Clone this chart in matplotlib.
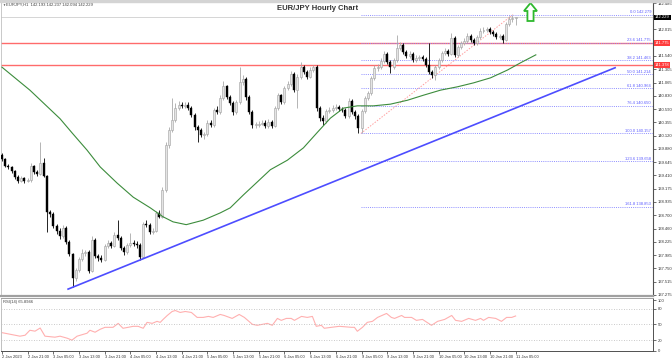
import numpy as np
import matplotlib
matplotlib.use("Agg")
import matplotlib.pyplot as plt
import matplotlib.transforms as mtransforms
from matplotlib.patches import Polygon, Rectangle

plt.rcParams["font.family"] = ["Liberation Sans", "DejaVu Sans"]

# ---------------- DATA (EUR/JPY H1) ----------------
first_open = 139.77
closes = [139.70, 139.58, 139.56, 139.49, 139.38, 139.31, 139.36, 139.31, 139.33, 139.58,
          139.47, 139.43, 139.63, 139.40, 138.76, 138.72, 138.51, 138.42, 138.33, 138.47,
          138.22, 138.01, 137.58, 137.72, 137.92, 138.03, 138.04, 137.70, 138.26, 137.97,
          137.94, 137.90, 138.15, 138.20, 138.15, 138.35, 138.29, 138.11, 138.04, 138.17,
          138.20, 138.19, 138.17, 137.95, 138.54, 138.52, 138.40, 138.42, 138.74, 138.67,
          139.15, 139.95, 140.22, 140.40, 140.61, 140.67, 140.65, 140.67, 140.61, 140.49,
          140.27, 140.22, 140.13, 140.15, 140.35, 140.31, 140.58, 140.54, 140.79, 141.00,
          140.81, 140.70, 140.54, 140.72, 141.08, 141.13, 140.81, 140.54, 140.31, 140.31,
          140.33, 140.35, 140.29, 140.36, 140.29, 140.61, 140.84, 140.72, 140.97, 141.04,
          141.22, 140.93, 141.17, 141.34, 141.25, 141.17, 141.29, 141.34, 140.61, 140.43,
          140.38, 140.56, 140.58, 140.61, 140.63, 140.59, 140.58, 140.47, 140.74, 140.54,
          140.47, 140.26, 140.56, 140.79, 140.88, 141.15, 141.33, 141.34, 141.45, 141.58,
          141.43, 141.34, 141.47, 141.68, 141.74, 141.61, 141.54, 141.58, 141.47, 141.50,
          141.52, 141.49, 141.38, 141.25, 141.20, 141.34, 141.47, 141.59, 141.63, 141.58,
          141.86, 141.56, 141.70, 141.77, 141.81, 141.90, 141.83, 141.77, 141.88, 141.99,
          142.00, 142.02, 141.97, 141.93, 141.88, 141.90, 141.83, 142.11, 142.20, 142.22,
          142.229]
highs = [139.80, 139.72, 139.61, 139.58, 139.51, 139.41, 139.39, 139.38, 139.36, 139.63,
         139.60, 139.50, 140.00, 139.72, 139.42, 138.80, 138.76, 138.55, 138.47, 138.52,
         138.50, 138.25, 138.03, 137.76, 137.96, 138.10, 138.08, 138.08, 138.33, 138.29,
         138.01, 137.99, 138.19, 138.25, 138.23, 138.40, 138.62, 138.33, 138.15, 138.21,
         138.38, 138.26, 138.23, 138.20, 138.58, 138.62, 138.56, 138.47, 138.78, 138.79,
         139.20, 140.00, 140.28, 140.79, 140.70, 140.74, 140.72, 140.71, 140.71, 140.64,
         140.52, 140.30, 140.26, 140.19, 140.39, 140.40, 140.62, 140.64, 140.84, 141.10,
         141.03, 140.84, 140.74, 140.76, 141.34, 141.20, 141.16, 140.85, 140.57, 140.36,
         140.38, 140.40, 140.39, 140.41, 140.39, 140.65, 140.88, 140.87, 141.01, 141.09,
         141.27, 141.25, 141.21, 141.43, 141.38, 141.29, 141.34, 141.38, 141.37, 140.65,
         140.48, 140.60, 140.63, 140.66, 140.68, 140.67, 140.63, 140.62, 140.79, 140.77,
         140.58, 140.50, 140.60, 140.83, 140.92, 141.19, 141.38, 141.40, 141.50, 141.63,
         141.61, 141.46, 141.51, 141.91, 141.79, 141.77, 141.65, 141.62, 141.61, 141.55,
         141.56, 141.56, 141.52, 141.77, 141.29, 141.38, 141.51, 141.63, 141.68, 141.67,
         141.95, 141.89, 141.74, 141.81, 141.86, 141.95, 141.93, 141.86, 141.92, 142.04,
         142.05, 142.06, 142.05, 142.00, 141.96, 141.94, 141.93, 142.15, 142.25, 142.279,
         142.237]
lows = [139.67, 139.55, 139.52, 139.46, 139.35, 139.28, 139.29, 139.28, 139.29, 139.30,
        139.44, 139.40, 139.41, 139.38, 138.40, 138.66, 138.47, 138.36, 138.28, 138.30,
        138.18, 137.97, 137.42, 137.52, 137.68, 137.88, 137.97, 137.66, 137.68, 137.93,
        137.88, 137.86, 137.88, 138.12, 138.12, 138.13, 138.26, 138.07, 137.98, 138.01,
        138.14, 138.15, 138.12, 137.90, 137.93, 138.48, 138.36, 138.36, 138.40, 138.64,
        138.64, 139.12, 139.90, 140.18, 140.36, 140.57, 140.61, 140.62, 140.57, 140.45,
        140.22, 140.00, 140.09, 140.05, 140.11, 140.27, 140.28, 140.50, 140.50, 140.75,
        140.77, 140.66, 140.49, 140.51, 140.69, 141.03, 140.76, 140.50, 140.26, 140.25,
        140.28, 140.30, 140.25, 140.26, 140.25, 140.27, 140.57, 140.68, 140.69, 140.93,
        141.00, 140.89, 140.61, 141.13, 141.21, 141.13, 141.14, 141.26, 140.56, 140.38,
        140.30, 140.34, 140.52, 140.54, 140.57, 140.55, 140.54, 140.43, 140.44, 140.50,
        140.42, 140.16, 140.157, 140.53, 140.75, 140.85, 141.12, 141.28, 141.30, 141.42,
        141.39, 141.24, 141.30, 141.44, 141.64, 141.57, 141.50, 141.51, 141.43, 141.44,
        141.46, 141.45, 141.34, 141.21, 141.15, 141.11, 141.31, 141.44, 141.56, 141.54,
        141.55, 141.52, 141.52, 141.66, 141.74, 141.78, 141.79, 141.73, 141.74, 141.85,
        141.95, 141.97, 141.93, 141.89, 141.84, 141.85, 141.78, 141.80, 142.07, 142.15,
        142.094]

# moving average (bar index, price)
ma_bars = [0, 8.7, 18.1, 21.8, 26.5, 30.6, 35.9, 40.9, 46.2, 50.2, 53.3, 57.4, 62.7, 68.0,
           71.1, 75.2, 79.5, 83.6, 88.9, 93.9, 98.3, 102.3, 106.4, 110.7, 115.7, 121.0,
           126.3, 131.3, 136.6, 141.9, 146.9, 152.2, 157.5, 161.6, 166.3]
ma_vals = [141.34, 140.93, 140.42, 140.17, 139.86, 139.56, 139.27, 139.02, 138.83, 138.67,
           138.58, 138.53, 138.61, 138.74, 138.83, 139.06, 139.29, 139.51, 139.68, 139.90,
           140.18, 140.43, 140.61, 140.65, 140.65, 140.68, 140.75, 140.84, 140.93, 140.99,
           141.06, 141.15, 141.29, 141.42, 141.56]

# RSI(14)
rsi_bars = [0, 2.5, 5.6, 7.2, 8.7, 10.3, 11.9, 13.4, 16.5, 18.1, 20.3, 21.8, 23.4, 26.5,
            27.4, 29.0, 30.6, 32.1, 34.6, 36.2, 37.7, 39.3, 40.9, 42.4, 44.0, 45.2, 46.8,
            48.3, 49.3, 50.2, 51.5, 53.0, 54.0, 55.5, 57.1, 59.0, 60.8, 62.7, 64.3, 65.8,
            68.0, 69.2, 71.7, 73.9, 75.5, 78.0, 79.5, 82.7, 84.2, 85.8, 87.0, 88.6, 90.1,
            91.1, 93.3, 95.1, 96.7, 97.9, 99.5, 100.4, 102.6, 105.1, 108.9, 109.8, 110.7,
            112.3, 113.8, 115.4, 117.0, 119.8, 121.3, 122.3, 124.5, 125.4, 127.6, 129.1,
            131.0, 133.8, 135.7, 137.9, 140.1, 141.3, 143.2, 145.4, 147.5, 149.1, 150.0,
            151.6, 153.8, 155.6, 157.2, 158.8, 160.0]
rsi_vals = [34.3, 31.3, 27.6, 29.4, 38.8, 37.1, 43.1, 27.6, 25.7, 27.6, 23.8, 20.1, 27.6,
            33.2, 38.8, 35.1, 40.7, 44.4, 44.4, 51.9, 42.6, 44.4, 46.3, 46.3, 42.6, 53.8,
            51.9, 55.7, 53.8, 59.4, 66.9, 74.4, 76.3, 72.6, 74.4, 72.6, 63.2, 63.2, 65.1,
            63.2, 68.8, 66.9, 61.3, 68.8, 63.2, 50.1, 48.2, 51.9, 48.2, 61.3, 57.6, 61.3,
            61.3, 57.6, 65.1, 63.2, 65.1, 46.3, 48.2, 42.6, 44.4, 46.3, 44.4, 44.4, 36.9,
            44.4, 53.8, 55.7, 63.2, 70.7, 63.2, 61.3, 66.9, 63.2, 63.2, 57.6, 59.4, 48.2,
            55.7, 59.4, 66.9, 57.6, 55.7, 61.3, 57.6, 61.3, 57.6, 63.2, 61.3, 55.7, 63.2,
            63.2, 65.9]

trend_bars = [20.6, 191.0]
trend_prices = [137.38, 141.33]

fib_start, fib_end = 111.8, 159.2
fib_names = ["0.0", "23.6", "38.2", "50.0", "61.8", "76.4", "100.0", "123.6", "161.8"]
fib_levels = [142.279, 141.775, 141.463, 141.214, 140.964, 140.650, 140.157, 139.658, 138.853]

red_levels = [141.775, 141.378]
last_price = 142.229

price_ticks = [142.485, 142.250, 142.015, 141.775, 141.540, 141.305, 141.065, 140.830,
               140.590, 140.355, 140.120, 139.880, 139.645, 139.410, 139.175, 138.935,
               138.700, 138.460, 138.225, 137.985, 137.750, 137.515, 137.275]
time_labels = ["2 Jan 2023", "2 Jan 21:00", "3 Jan 05:00", "3 Jan 13:00", "3 Jan 21:00",
               "4 Jan 05:00", "4 Jan 13:00", "4 Jan 21:00", "5 Jan 05:00", "5 Jan 13:00",
               "5 Jan 21:00", "6 Jan 05:00", "6 Jan 13:00", "6 Jan 21:00", "9 Jan 05:00",
               "9 Jan 13:00", "9 Jan 21:00", "10 Jan 05:00", "10 Jan 13:00", "10 Jan 21:00",
               "11 Jan 05:00"]
time_ticks = [0, 8, 16, 24, 32, 40, 48, 56, 64, 72, 80, 88, 96, 104, 112, 120, 128, 136,
              144, 152, 160]

# ---------------- FIGURE ----------------
W, H = 672, 360
fig = plt.figure(figsize=(W / 100, H / 100), dpi=100)
fig.patch.set_facecolor("white")


def px_box(l, t, r, b):
    return [l / W, 1 - b / H, (r - l) / W, (b - t) / H]


ax = fig.add_axes(px_box(1, 2, 653, 296))
ax_rsi = fig.add_axes(px_box(1, 298, 653, 351), sharex=ax)

xmin, xmax = -0.3, 202.8
ax.set_xlim(xmin, xmax)
ax.set_ylim(137.257, 142.503)

# ---------------- CANDLES ----------------
c = np.array(closes)
hi = np.array(highs)
lo = np.array(lows)
o = np.r_[first_open, c[:-1]]
x = np.arange(len(c))
up = c >= o

ax.vlines(x[up], lo[up], hi[up], color="#a8a8a8", lw=0.6, zorder=3)
ax.vlines(x[~up], lo[~up], hi[~up], color="black", lw=0.6, zorder=3)
ax.bar(x[up], np.maximum(c - o, 0.012)[up], bottom=o[up], width=0.62,
       color="#e4e4e4", edgecolor="#a0a0a0", lw=0.4, zorder=4)
ax.bar(x[~up], np.maximum(o - c, 0.012)[~up], bottom=c[~up], width=0.62,
       color="black", edgecolor="black", lw=0.3, zorder=4)

# ---------------- LINES ----------------
ax.plot(ma_bars, ma_vals, color="#3c8c3c", lw=0.8, zorder=5)
ax.plot(trend_bars, trend_prices, color="#4d4dff", lw=1.2, zorder=5)
ax.plot([fib_start, fib_end], [fib_levels[6], fib_levels[0]],
        color="#ff9f9f", lw=0.7, ls=(0, (1.5, 1.5)), zorder=2)

for p in red_levels:
    ax.axhline(p, color="#ff6b6b", lw=1.0, zorder=2)
ax.axhline(last_price, color="#cfcfcf", lw=0.6, zorder=1)

blend = mtransforms.blended_transform_factory(ax.transAxes, ax.transData)
for name, lv in zip(fib_names, fib_levels):
    ax.hlines(lv, fib_start, xmax, colors="#8f8fff", lw=0.7, linestyles=(0, (1, 1.2)),
              zorder=2)
    ax.text(0.997, lv + 0.012, f"{name} {lv:.3f}", transform=blend, ha="right",
            va="bottom", fontsize=3, color="#5c5cff", zorder=6)

# ---------------- PRICE AXIS ----------------
# labels sitting under the price boxes are hidden, as on the terminal
hidden = {142.250, 141.775}
ax.yaxis.tick_right()
ax.set_yticks(price_ticks)
ax.set_yticklabels(["" if p in hidden else f"{p:.3f}" for p in price_ticks])
ax.tick_params(axis="y", labelsize=3, length=2, width=0.5, pad=1.2, colors="#333333")
ax.tick_params(axis="x", bottom=False, labelbottom=False)

for p, txt, fc in [(last_price, "142.229", "black"),
                   (red_levels[0], "141.775", "#ff3b3b"),
                   (red_levels[1], "141.378", "#ff3b3b")]:
    ax.text(1.003, p, txt, transform=blend, fontsize=3, color="white", ha="left",
            va="center", zorder=10, clip_on=False,
            bbox=dict(boxstyle="square,pad=0.2", fc=fc, ec="none"))

for s in ["top", "left"]:
    ax.spines[s].set_color("#c0c0c0")
    ax.spines[s].set_linewidth(0.6)
ax.spines["right"].set_color("#505050")
ax.spines["right"].set_linewidth(0.8)
ax.spines["bottom"].set_color("#a0a0a0")
ax.spines["bottom"].set_linewidth(1.6)

# up arrow
cx, top, base, bot, hw, sw = 0.8121, 0.9966, 0.9694, 0.9354, 0.0100, 0.0047
arrow = Polygon([(cx, top), (cx + hw, base), (cx + sw, base), (cx + sw, bot),
                 (cx - sw, bot), (cx - sw, base), (cx - hw, base)], closed=True,
                transform=ax.transAxes, fc="white", ec="#2db82d", lw=1.3,
                zorder=8, clip_on=False)
ax.add_patch(arrow)

# ---------------- RSI ----------------
ax_rsi.plot(rsi_bars, rsi_vals, color="#ffb0b0", lw=0.8)
for lv in (80, 50, 20):
    ax_rsi.axhline(lv, color="#b8b8b8", lw=0.6, ls=(0, (1, 2)))
ax_rsi.set_ylim(-0.5, 100)
ax_rsi.yaxis.tick_right()
ax_rsi.set_yticks([0, 20, 50, 80, 96])
ax_rsi.set_yticklabels(["0", "20", "50", "80", "100"])
ax_rsi.tick_params(axis="y", labelsize=3, length=2, width=0.5, pad=1.2, colors="#333333")
ax_rsi.set_xticks(time_ticks)
ax_rsi.set_xticklabels(time_labels, ha="left")
ax_rsi.tick_params(axis="x", labelsize=2.9, length=2, width=0.5, pad=1.0, colors="#333333")
ax_rsi.text(0.003, 0.96, "RSI(14) 65.8946", transform=ax_rsi.transAxes, fontsize=3,
            color="#404040", va="top", ha="left")
ax_rsi.spines["top"].set_color("#a0a0a0")
ax_rsi.spines["left"].set_color("#c0c0c0")
ax_rsi.spines["right"].set_color("#505050")
ax_rsi.spines["bottom"].set_color("#505050")
for s in ax_rsi.spines.values():
    s.set_linewidth(0.7)

# ---------------- HEADER ----------------
fig.patches.append(Rectangle((0, 1 - 2 / H), 1, 2 / H, transform=fig.transFigure,
                             color="#d4d4d4", zorder=0))
fig.text(2 / W, 1 - 5 / H, "\u25bc", fontsize=2.2, color="#404040", va="center")
fig.text(6 / W, 1 - 5 / H, "EURJPY,H1  142.193 142.237 142.094 142.229", fontsize=3,
         color="#404040", va="center", ha="left")
fig.text(318 / W, 1 - 8 / H, "EUR/JPY Hourly Chart", fontsize=5.5, fontweight="bold",
         color="#333333", ha="center", va="center")

fig.savefig("out.png", dpi=100)
